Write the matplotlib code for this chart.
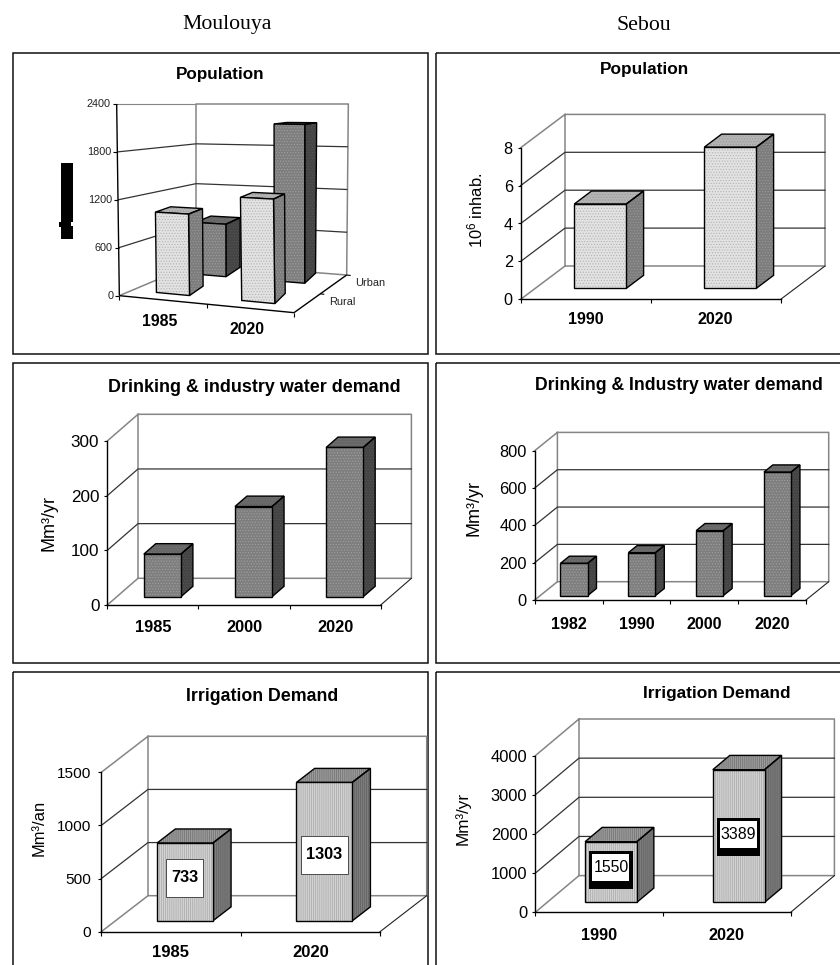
#!/usr/bin/env python

import numpy as np
import matplotlib
matplotlib.use('Agg')
import matplotlib.pyplot as plt
from matplotlib.patches import Polygon, Rectangle
from matplotlib.transforms import Affine2D, IdentityTransform

plt.rcParams.update({'font.family': ['Liberation Sans', 'DejaVu Sans'],
                     'mathtext.default': 'regular',
                     'hatch.linewidth': 0.5})

W, H = 840, 965

# moulouya
moul_pop_years = ['1985', '2020']
moul_pop_rural = [1025, 1270]
moul_pop_urban = [730, 2135]
moul_pop_ticks = [0, 600, 1200, 1800, 2400]
moul_drink_years = ['1985', '2000', '2020']
moul_drink = [78, 165, 273]
moul_drink_ticks = [0, 100, 200, 300]
moul_irr_years = ['1985', '2020']
moul_irr = [733, 1303]
moul_irr_ticks = [0, 500, 1000, 1500]

# sebou
seb_pop_years = ['1990', '2020']
seb_pop = [4.45, 7.45]
seb_pop_ticks = [0, 2, 4, 6, 8]
seb_drink_years = ['1982', '1990', '2000', '2020']
seb_drink = [173, 230, 348, 662]
seb_drink_ticks = [0, 200, 400, 600, 800]
seb_irr_years = ['1990', '2020']
seb_irr = [1550, 3389]
seb_irr_ticks = [0, 1000, 2000, 3000, 4000]

LIGHT = dict(front='#e2e2e2', fh='#b4b4b4', side='#7c7c7c', sh='#9a9a9a', top='#b4b4b4', th='#999999', hatch='......')
DARK = dict(front='#7e7e7e', fh='#a0a0a0', side='#444444', sh='#555555', top='#666666', th='#777777', hatch='......')
STRIPE = dict(front='#d2d2d2', fh='#a8a8a8', side='#686868', sh='#888888', top='#9a9a9a', th='#707070', hatch='||||||||')

fig = plt.figure(figsize=(W / 100, H / 100), dpi=100)

# full size axes in picture pixels, for frames, headings and the perspective chart
bg = fig.add_axes([0, 0, 1, 1])
bg.set_xlim(0, W)
bg.set_ylim(H, 0)
bg.axis('off')


def frame(x0, y0, x1, y1):
    bg.add_patch(Rectangle((x0, y0), x1 - x0, y1 - y0, fill=False, ec='#111111', lw=1.1, clip_on=False))


def hatched(ax, pts, col, hcol, hatch, z, trans):
    ax.add_patch(Polygon(pts, fc=col, ec=hcol, lw=0, hatch=hatch, transform=trans, clip_on=False, zorder=z))
    ax.add_patch(Polygon(pts, fill=False, ec='black', lw=1.0, transform=trans, clip_on=False, zorder=z + 0.1))


def chart(x0, x1, floor, top, dx, dy, vals, years, ticks, style, tsize, ysize, ypad,
          base=0.3, depth=0.39, width=0.4, labels=None, tpad=3.2):
    ax = fig.add_axes([x0 / W, 1 - floor / H, (x1 - x0) / W, (floor - top) / H])
    ax.patch.set_visible(False)
    n = len(years)
    ax.set_xlim(0, n)
    ax.set_ylim(0, ticks[-1])
    for s in ['top', 'right']:
        ax.spines[s].set_visible(False)
    for s in ['left', 'bottom']:
        ax.spines[s].set_linewidth(1.0)
    ax.set_yticks(ticks)
    ax.tick_params(axis='y', labelsize=tsize, length=2.5, pad=tpad, width=0.8)
    ax.set_xticks(range(n + 1))
    ax.set_xticklabels([])
    ax.tick_params(axis='x', length=3, width=0.8)
    ax.set_xticks(np.arange(n) + 0.5, minor=True)
    ax.set_xticklabels(years, minor=True, fontweight='bold', fontsize=ysize)
    ax.tick_params(axis='x', which='minor', length=0, pad=ypad)

    idt = IdentityTransform()

    def pt(x, v, f=0.0):
        p = ax.transData.transform((x, v))
        return (p[0] + f * dx, p[1] + f * dy)

    # walls
    wall = '#858585'
    ax.add_line(plt.Line2D(*zip(pt(0, ticks[-1]), pt(0, ticks[-1], 1), pt(n, ticks[-1], 1), pt(n, 0, 1), pt(0, 0, 1), pt(0, ticks[-1], 1)),
                           color=wall, lw=1.1, transform=idt, clip_on=False, zorder=1))
    ax.add_line(plt.Line2D(*zip(pt(0, 0), pt(0, 0, 1)), color=wall, lw=1.1, transform=idt, clip_on=False, zorder=1))
    ax.add_line(plt.Line2D(*zip(pt(n, 0), pt(n, 0, 1)), color='#222222', lw=0.8, transform=idt, clip_on=False, zorder=1))
    for v in ticks[1:-1]:
        ax.add_line(plt.Line2D(*zip(pt(0, v), pt(0, v, 1), pt(n, v, 1)), color='#333333', lw=0.9,
                               transform=idt, clip_on=False, zorder=1))

    # bars
    shift = ax.transData + Affine2D().translate(base * dx, base * dy)
    xs = np.arange(n) + 0.5
    ax.bar(xs, vals, width, color=style['front'], edgecolor=style['fh'], linewidth=0, hatch=style['hatch'],
           transform=shift, clip_on=False, zorder=3)
    ax.bar(xs, vals, width, fill=False, edgecolor='black', linewidth=1.0, transform=shift, clip_on=False, zorder=3.1)
    for x, v in zip(xs, vals):
        l, r = x - width / 2, x + width / 2
        f0, f1 = base, base + depth
        hatched(ax, [pt(r, 0, f0), pt(r, v, f0), pt(r, v, f1), pt(r, 0, f1)],
                style['side'], style['sh'], style['hatch'], 2.5, idt)
        hatched(ax, [pt(l, v, f0), pt(r, v, f0), pt(r, v, f1), pt(l, v, f1)],
                style['top'], style['th'], style['hatch'], 2.5, idt)

    # value boxes
    if labels:
        for i, (x, v) in enumerate(zip(xs, vals)):
            cx, cy = pt(x, v / 2, base)
            cy += labels['dy'][i]
            w = labels['w'][i]
            if labels['black']:
                ax.add_patch(Rectangle((cx - w / 2 - 3.3, cy - 19), w + 6.6, 38, fc='black', ec='none', transform=idt, clip_on=False, zorder=4))
                ax.add_patch(Rectangle((cx - w / 2, cy - 11), w, 27, fc='white', ec='none', transform=idt, clip_on=False, zorder=4.1))
                ty = cy + 2.5
            else:
                ax.add_patch(Rectangle((cx - w / 2, cy - 19), w, 38, fc='white', ec='#333333', lw=0.6, transform=idt, clip_on=False, zorder=4))
                ty = cy
            ax.text(cx, ty, f'{v}', ha='center', va='center', fontsize=labels['size'], fontweight=labels['weight'],
                    transform=idt, clip_on=False, zorder=5)
    return ax


# headings
bg.text(227, 29.5, 'Moulouya', family='Liberation Serif', fontsize=15.7, ha='center', va='baseline')
bg.text(644, 29.5, 'Sebou', family='Liberation Serif', fontsize=15.7, ha='center', va='baseline')

# frames
frame(12.7, 53.3, 428.3, 354)
frame(435.7, 53.3, 848, 354)
frame(12.7, 363.3, 428.3, 662.7)
frame(435.7, 363.3, 848, 662.7)
frame(12.7, 671.7, 428.3, 980)
frame(435.7, 672.3, 848, 980)

# panel titles
for x, y, s, size in [(220.3, 74, 'Population', 12.3), (644.3, 69.3, 'Population', 12.4),
                      (254, 387.7, 'Drinking & industry water demand', 12.9),
                      (679.3, 385, 'Drinking & Industry water demand', 12.7),
                      (262, 696.7, 'Irrigation Demand', 12.8), (716.7, 693.3, 'Irrigation Demand', 12.4)]:
    bg.text(x, y, s, fontsize=size, fontweight='bold', ha='center', va='center')

# axis names
for x, y, s, size in [(475.7, 210, '10$^{6}$ inhab.', 11.9), (49, 523, 'Mm³/yr', 13),
                      (474, 508, 'Mm³/yr', 13), (39, 828, 'Mm³/an', 11.9), (463, 818, 'Mm³/yr', 12.3)]:
    bg.text(x, y, s, fontsize=size, rotation=90, ha='center', va='center')

# the black smudge left of the first chart
bg.add_patch(Rectangle((61, 163), 12, 59, fc='black', ec='none'))
bg.add_patch(Rectangle((61, 226), 12, 13, fc='black', ec='none'))
bg.add_patch(Rectangle((59, 222), 12, 5, fc='black', ec='none'))

# perspective chart: corners of the box in picture pixels
FL0, FR0, BL0, BR0 = [np.array(p) / 3.0 for p in [(358, 887), (882, 938), (588, 790), (1040, 825)]]
FLT, FRT, BLT, BRT = [np.array(p) / 3.0 for p in [(350, 312), (872, 321), (588, 312), (1045, 312)]]
vmax = moul_pop_ticks[-1]


def project(u, d, v):
    low = (1 - u) * (1 - d) * FL0 + u * (1 - d) * FR0 + (1 - u) * d * BL0 + u * d * BR0
    upp = (1 - u) * (1 - d) * FLT + u * (1 - d) * FRT + (1 - u) * d * BLT + u * d * BRT
    return low + (upp - low) * v / vmax


def pline(pts, color, lw, z=1):
    bg.plot([p[0] for p in pts], [p[1] for p in pts], color=color, lw=lw, zorder=z, solid_capstyle='butt', clip_on=False)


pline([project(0, 1, 0), project(0, 1, vmax), project(1, 1, vmax), project(1, 1, 0), project(0, 1, 0), project(0, 0, 0)], '#858585', 1.1)
pline([project(0, 0, vmax), project(0, 1, vmax)], '#858585', 0.8)
for v in moul_pop_ticks[1:-1]:
    pline([project(0, 0, v), project(0, 1, v), project(1, 1, v)], '#333333', 0.9)
pline([project(0, 0, 0), project(0, 0, vmax)], 'black', 1.0, 1.5)
pline([project(0, 0, 0), project(1, 0, 0), project(1, 1, 0)], 'black', 1.0, 1.5)
for v in moul_pop_ticks:
    p = project(0, 0, v)
    pline([p, p - (4, 0)], 'black', 0.8)
    bg.text(p[0] - 6, p[1], str(v), fontsize=7.8, ha='right', va='center', color='#222222')
for u in [0, 0.5, 1]:
    p = project(u, 0, 0)
    pline([p, p + (0, 4)], 'black', 0.8)
for d in [0.5, 1]:
    p = project(1, d, 0)
    pline([p, p + (4, 0.5)], 'black', 0.8)

for i, y in enumerate(moul_pop_years):
    p = project((i + 0.5) / 2, 0, 0)
    bg.text(p[0] - 3, p[1] + 21.5, y, fontsize=11.4, fontweight='bold', ha='center', va='center')
bg.text(370, 283.5, 'Urban', fontsize=7.9, ha='center', va='center', color='#222222')
bg.text(342.5, 302, 'Rural', fontsize=7.9, ha='center', va='center', color='#222222')

DU, DD = -0.028, 0.265
trans = bg.transData
z = 2.0
for vals, d0, t, style in [(moul_pop_urban, 0.72, -0.02, DARK), (moul_pop_rural, 0.17, -0.012, LIGHT)]:
    for i, v in enumerate(vals):
        c = (i + 0.5) / 2 + t
        l, r = c - 0.097, c + 0.097
        hatched(bg, [project(r, d0, 0), project(r, d0, v), project(r + DU, d0 + DD, v), project(r + DU, d0 + DD, 0)],
                style['side'], style['sh'], style['hatch'], z, trans)
        hatched(bg, [project(l, d0, v), project(r, d0, v), project(r + DU, d0 + DD, v), project(l + DU, d0 + DD, v)],
                style['top'], style['th'], style['hatch'], z, trans)
        hatched(bg, [project(l, d0, 0), project(r, d0, 0), project(r, d0, v), project(l, d0, v)],
                style['front'], style['fh'], style['hatch'], z + 0.2, trans)
        z += 0.5

# the five plain charts
chart(520.7, 780.7, 299.3, 147.7, 44.3, 33.3, seb_pop, seb_pop_years, seb_pop_ticks, LIGHT, 11.7, 11.5, 9.5, base=0.33)
chart(107.3, 380.7, 605, 441, 30.7, 26.7, moul_drink, moul_drink_years, moul_drink_ticks, DARK, 12.3, 11.8, 11, base=0.31, width=0.407)
chart(534.7, 806, 600, 450.7, 22.7, 18.3, seb_drink, seb_drink_years, seb_drink_ticks, DARK, 11.8, 11.6, 12, base=0.24, depth=0.39)
chart(101.3, 380, 931.7, 772.3, 46.7, 36, moul_irr, moul_irr_years, moul_irr_ticks, STRIPE, 11.1, 12, 9.5, tpad=4.7,
      labels=dict(w=[37, 46.7], dy=[4, -3], black=False, size=11.7, weight='bold'))
chart(535.3, 790.7, 912.3, 755.7, 43.7, 36.7, seb_irr, seb_irr_years, seb_irr_ticks, STRIPE, 11.9, 11.7, 11.5, base=0.27, width=0.405,
      labels=dict(w=[37, 37], dy=[2, -1], black=True, size=11.4, weight='normal'))

plt.savefig('out.png', dpi=100)
